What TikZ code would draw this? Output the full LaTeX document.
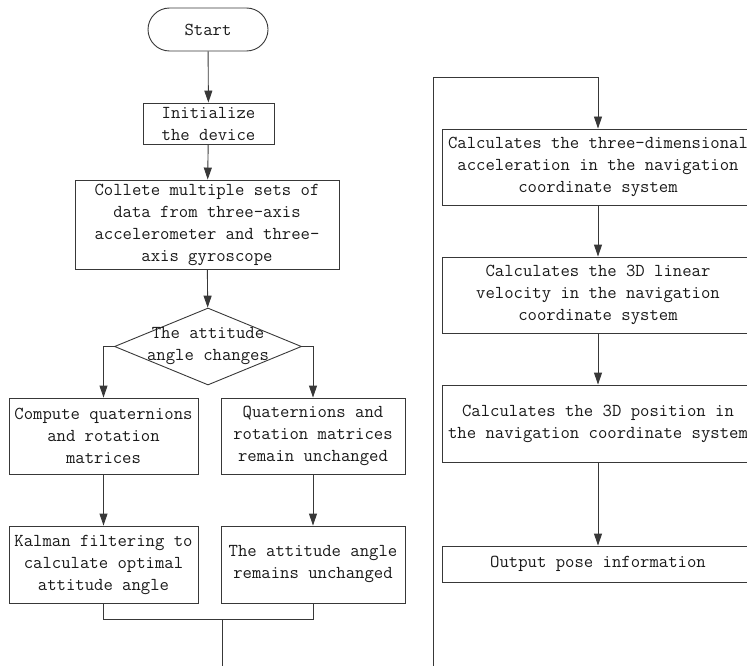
\documentclass[tikz,border=0pt]{standalone}
\usepackage{fontspec}
\usetikzlibrary{shapes.geometric,arrows.meta}
\begin{document}
\begin{tikzpicture}[x=1pt,y=-1pt,
  every node/.style={font=\ttfamily\fontsize{18.2}{22}\selectfont, text=black!90, align=center, inner sep=0pt},
  boxnode/.style={draw=black!78, line width=0.9pt, rectangle},
  arrowline/.style={draw=black!78, line width=0.9pt, -{Triangle[length=12pt,width=8pt]}},
  plainline/.style={draw=black!78, line width=0.9pt}]
\useasboundingbox (0,0) rectangle (747,666);
\clip (0,0) rectangle (747,666);
% left column
\node[boxnode, rounded corners=21.5pt, minimum width=120pt, minimum height=43pt] (start) at (208,29.5) {Start};
\node[boxnode, minimum width=131pt, minimum height=41pt] (init) at (208.5,123.5) {Initialize\\the device};
\node[boxnode, minimum width=264pt, minimum height=89pt] (coll) at (207,224.5) {Collete multiple sets of\\data from three-axis\\accelerometer and three-\\axis gyroscope};
\node[draw=black!78, line width=0.9pt, diamond, minimum width=187pt, minimum height=77pt] (dia) at (208,346.5) {};
\node (diatext) at (208,346.5) {The attitude\\angle changes};
\node[boxnode, minimum width=189pt, minimum height=76pt] (l1) at (103.5,436) {Compute quaternions\\and rotation\\matrices};
\node[boxnode, minimum width=184pt, minimum height=76pt] (r1) at (313,436) {Quaternions and\\rotation matrices\\remain unchanged};
\node[boxnode, minimum width=189pt, minimum height=77pt] (l2) at (103.5,564.5) {Kalman filtering to\\calculate optimal\\attitude angle};
\node[boxnode, minimum width=184pt, minimum height=77pt] (r2) at (313,564.5) {The attitude angle\\remains unchanged};
\coordinate (mergeL) at (103.5,619);
\coordinate (mergeR) at (313,619);
\coordinate (mergeM) at (222,619);
\coordinate (downEnd) at (222,672);
% right column
\node[boxnode, minimum width=312pt, minimum height=76pt] (ra) at (598,167) {Calculates the three-dimensional\\acceleration in the navigation\\coordinate system};
\node[boxnode, minimum width=312pt, minimum height=76pt] (rb) at (598,295) {Calculates the 3D linear\\velocity in the navigation\\coordinate system};
\node[boxnode, minimum width=312pt, minimum height=77pt] (rc) at (598,423.5) {Calculates the 3D position in\\the navigation coordinate system};
\node[boxnode, minimum width=312pt, minimum height=36pt] (rd) at (598,564) {Output pose information};
\coordinate (loopB) at (433,672);
\coordinate (loopT) at (433,77);
% connectors
\draw[arrowline] (start) -- (init);
\draw[arrowline] (init) -- (coll);
\draw[arrowline] (coll) -- (dia);
\draw[arrowline] (dia.west) -| (l1.north);
\draw[arrowline] (dia.east) -| (r1.north);
\draw[arrowline] (l1) -- (l2);
\draw[arrowline] (r1) -- (r2);
\draw[plainline] (l2.south) -- (mergeL) -- (mergeR) -- (r2.south);
\draw[plainline] (mergeM) -- (downEnd);
\draw[arrowline] (loopB) -- (loopT) -| (ra.north);
\draw[arrowline] (ra) -- (rb);
\draw[arrowline] (rb) -- (rc);
\draw[arrowline] (rc) -- (rd);
\end{tikzpicture}
\end{document}
